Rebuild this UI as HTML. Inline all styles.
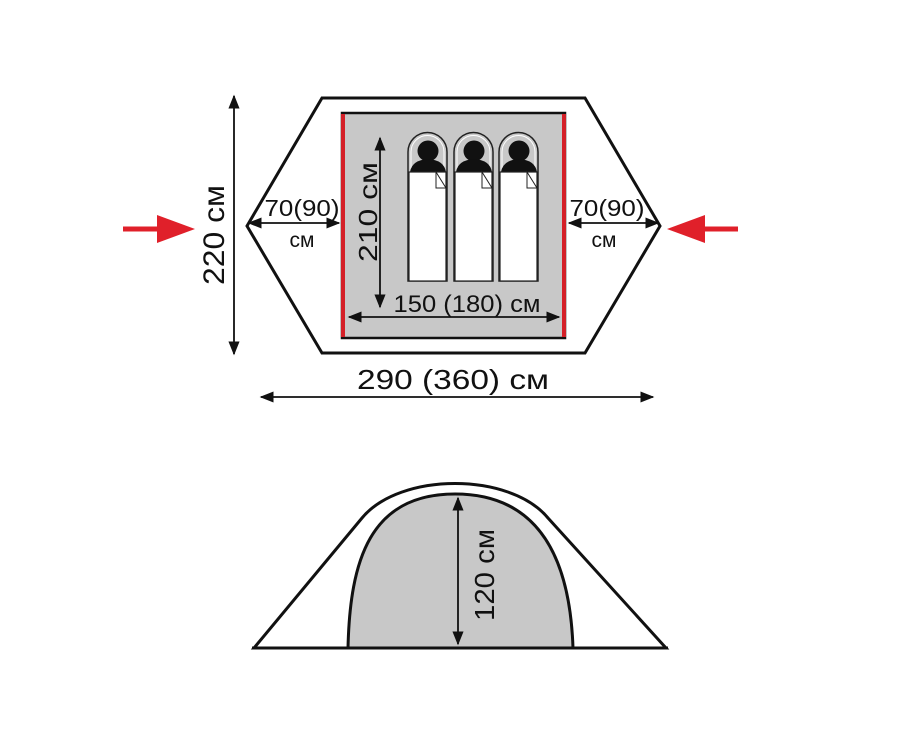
<!DOCTYPE html>
<html><head><meta charset="utf-8"><style>html,body{margin:0;padding:0;background:#fff}svg{display:block}text{font-family:"Liberation Sans",sans-serif;fill:#111}</style></head><body>
<svg width="900" height="750" viewBox="0 0 900 750" xmlns="http://www.w3.org/2000/svg">
<defs>
<marker id="b" viewBox="0 0 10 10" refX="9" refY="5" markerWidth="14" markerHeight="14" markerUnits="userSpaceOnUse" orient="auto-start-reverse"><path d="M0,1 L10,5 L0,9 z" fill="#111"/></marker>
<g id="bag">
<path d="M0,147 V18 A19.5,19.5 0 0 1 39,18 V147 Z" fill="#c8c8c8" stroke="#222" stroke-width="1.5"/>
<path d="M3,147 V18 A16.5,16.5 0 0 1 36,18 V147 Z" fill="none" stroke="#fff" stroke-width="1"/>
<circle cx="20" cy="17" r="10.5" fill="#111"/>
<path d="M2,38 Q4,26 20,25 Q36,26 38,38 Z" fill="#111"/>
<rect x="1" y="38" width="37" height="109" fill="#fff" stroke="#222" stroke-width="1.2"/>
<path d="M28,38 V54 H38 Z" fill="#fff" stroke="#222" stroke-width="1"/>
</g>
</defs>
<polygon points="322,98 585,98 660,226 585,353 322,353 247,226" fill="#fff" stroke="#111" stroke-width="3"/>
<rect x="342" y="113" width="223" height="225" fill="#c8c8c8" stroke="#111" stroke-width="2.5"/>
<line x1="343" y1="114" x2="343" y2="337" stroke="#d42028" stroke-width="4"/>
<line x1="564" y1="114" x2="564" y2="337" stroke="#d42028" stroke-width="4"/>
<use href="#bag" x="408" y="134"/>
<use href="#bag" x="454" y="134"/>
<use href="#bag" x="499" y="134"/>
<line x1="380" y1="138" x2="380" y2="307" stroke="#111" stroke-width="1.8" marker-start="url(#b)" marker-end="url(#b)"/>
<text transform="translate(377,212) rotate(-90)" font-size="26" text-anchor="middle" textLength="100" lengthAdjust="spacingAndGlyphs">210 см</text>
<line x1="349" y1="317" x2="559" y2="317" stroke="#111" stroke-width="1.8" marker-start="url(#b)" marker-end="url(#b)"/>
<text x="467" y="312" font-size="24" text-anchor="middle" textLength="147" lengthAdjust="spacingAndGlyphs">150 (180) см</text>
<line x1="249" y1="223" x2="339" y2="223" stroke="#111" stroke-width="1.8" marker-start="url(#b)" marker-end="url(#b)"/>
<text x="302" y="216" font-size="23" text-anchor="middle" textLength="75" lengthAdjust="spacingAndGlyphs">70(90)</text>
<text x="302" y="247" font-size="21" text-anchor="middle">см</text>
<line x1="569" y1="223" x2="658" y2="223" stroke="#111" stroke-width="1.8" marker-start="url(#b)" marker-end="url(#b)"/>
<text x="607" y="216" font-size="23" text-anchor="middle" textLength="75" lengthAdjust="spacingAndGlyphs">70(90)</text>
<text x="604" y="247" font-size="21" text-anchor="middle">см</text>
<line x1="234" y1="96" x2="234" y2="354" stroke="#111" stroke-width="1.8" marker-start="url(#b)" marker-end="url(#b)"/>
<text transform="translate(224,235) rotate(-90)" font-size="30" text-anchor="middle" textLength="100" lengthAdjust="spacingAndGlyphs">220 см</text>
<line x1="261" y1="397" x2="653" y2="397" stroke="#111" stroke-width="1.8" marker-start="url(#b)" marker-end="url(#b)"/>
<text x="453" y="389" font-size="28" text-anchor="middle" textLength="192" lengthAdjust="spacingAndGlyphs">290 (360) см</text>
<path d="M123,229 H160" stroke="#e0202a" stroke-width="5"/>
<path d="M157,215 L195,229 L157,243 Z" fill="#e0202a"/>
<path d="M738,229 H701" stroke="#e0202a" stroke-width="5"/>
<path d="M705,215 L667,229 L705,243 Z" fill="#e0202a"/>
<path d="M254,648 L362,518 C400,472 510,472 548,518 L666,648 Z" fill="#fff" stroke="#111" stroke-width="3"/>
<path d="M348,648 C350,560 370,494 455,494 C540,494 570,560 573,648 Z" fill="#c8c8c8" stroke="#111" stroke-width="3"/>
<line x1="252" y1="648" x2="668" y2="648" stroke="#111" stroke-width="3"/>
<line x1="458" y1="498" x2="458" y2="644" stroke="#111" stroke-width="1.8" marker-start="url(#b)" marker-end="url(#b)"/>
<text transform="translate(494,575) rotate(-90)" font-size="28" text-anchor="middle" textLength="92" lengthAdjust="spacingAndGlyphs">120 см</text>
</svg>
</body></html>
